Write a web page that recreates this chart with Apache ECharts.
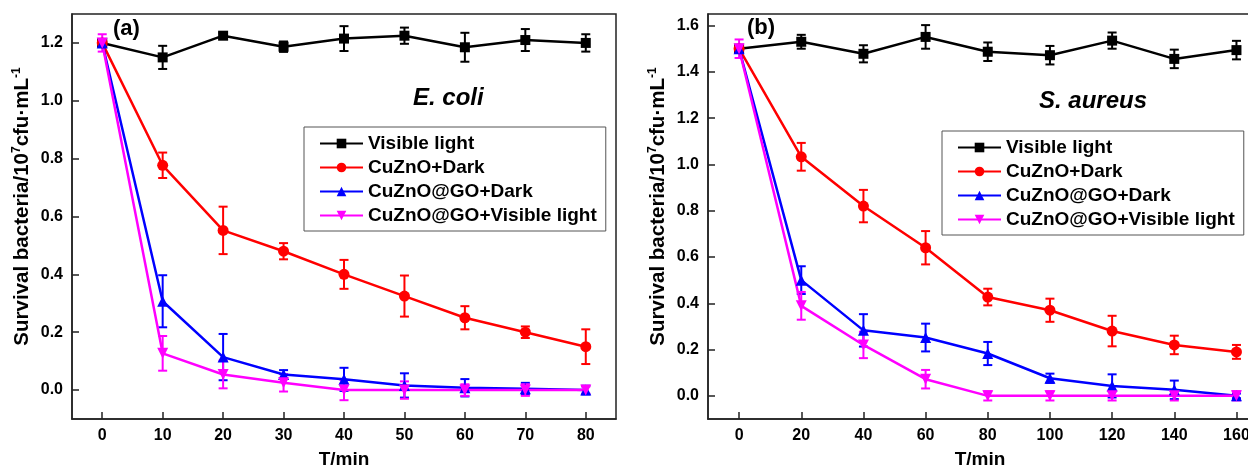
<!DOCTYPE html>
<html lang="en">
<head>
    <meta charset="UTF-8">
    <title>Survival bacteria</title>
    <script src="https://cdn.jsdelivr.net/npm/echarts@6/dist/echarts.min.js"></script>
    <style>
        html, body { margin: 0; padding: 0; background: #fff; }
        #main { width: 1248px; height: 471px; }
    </style>
</head>
<body>
    <div id="main"></div>
    <script>
    // ---- data ----
    var names = ['Visible light', 'CuZnO+Dark', 'CuZnO@GO+Dark', 'CuZnO@GO+Visible light'];

    // (a) E. coli
    var timeA = [0, 10, 20, 30, 40, 50, 60, 70, 80];
    var visA = [1.20, 1.15, 1.225, 1.187, 1.215, 1.225, 1.185, 1.21, 1.20];
    var visErrA = [0.01, 0.04, 0.01, 0.018, 0.043, 0.028, 0.05, 0.038, 0.03];
    var darkA = [1.20, 0.777, 0.552, 0.48, 0.40, 0.325, 0.25, 0.20, 0.15];
    var darkErrA = [0.01, 0.044, 0.082, 0.028, 0.05, 0.071, 0.04, 0.02, 0.06];
    var goDarkA = [1.20, 0.307, 0.114, 0.054, 0.037, 0.016, 0.008, 0.005, 0.0];
    var goDarkErrA = [0.01, 0.09, 0.08, 0.015, 0.04, 0.042, 0.03, 0.02, 0.015];
    var goVisA = [1.20, 0.127, 0.054, 0.025, 0.0, 0.0, 0.0, 0.0, 0.0];
    var goVisErrA = [0.03, 0.06, 0.048, 0.03, 0.035, 0.03, 0.02, 0.02, 0.012];

    // (b) S. aureus
    var timeB = [0, 20, 40, 60, 80, 100, 120, 140, 160];
    var visB = [1.50, 1.53, 1.478, 1.551, 1.487, 1.472, 1.535, 1.456, 1.494];
    var visErrB = [0.01, 0.03, 0.037, 0.051, 0.04, 0.04, 0.035, 0.04, 0.04];
    var darkB = [1.50, 1.033, 0.82, 0.64, 0.427, 0.37, 0.28, 0.22, 0.19];
    var darkErrB = [0.01, 0.06, 0.07, 0.072, 0.036, 0.05, 0.066, 0.04, 0.03];
    var goDarkB = [1.50, 0.50, 0.283, 0.252, 0.183, 0.076, 0.043, 0.026, 0.0];
    var goDarkErrB = [0.01, 0.06, 0.07, 0.06, 0.05, 0.02, 0.05, 0.04, 0.01];
    var goVisB = [1.50, 0.389, 0.22, 0.072, 0.0, 0.0, 0.0, 0.0, 0.0];
    var goVisErrB = [0.04, 0.06, 0.057, 0.04, 0.02, 0.02, 0.02, 0.02, 0.02];

    // tick labels
    var xTicksA = [0, 10, 20, 30, 40, 50, 60, 70, 80];
    var yTicksA = [0, 0.2, 0.4, 0.6, 0.8, 1.0, 1.2];
    var xTicksB = [0, 20, 40, 60, 80, 100, 120, 140, 160];
    var yTicksB = [0, 0.2, 0.4, 0.6, 0.8, 1.0, 1.2, 1.4, 1.6];

    var colors = ['#000000', '#ff0000', '#0000ff', '#ff00ff'];
    var symbols = ['rect', 'circle', 'triangle', 'path://M0,0 L10,0 L5,9 Z'];
    var symbolSizes = [10, 11, 11, 11];
    var font = 'Liberation Sans, Arial, sans-serif';

    function pairs(xs, ys) {
        return xs.map(function (x, i) { return [x, ys[i]]; });
    }
    function triples(xs, ys, es) {
        return xs.map(function (x, i) { return [x, ys[i], es[i]]; });
    }

    function errorBars(idx, xs, ys, es, color) {
        return {
            type: 'custom',
            name: 'err' + idx,
            xAxisIndex: idx,
            yAxisIndex: idx,
            data: triples(xs, ys, es),
            z: 3,
            renderItem: function (params, api) {
                var x = api.value(0), y = api.value(1), e = api.value(2);
                var hi = api.coord([x, y + e]);
                var lo = api.coord([x, y - e]);
                var w = 4.5;
                var st = { stroke: color, lineWidth: 2 };
                return {
                    type: 'group',
                    children: [
                        { type: 'line', shape: { x1: hi[0], y1: hi[1], x2: lo[0], y2: lo[1] }, style: st },
                        { type: 'line', shape: { x1: hi[0] - w, y1: hi[1], x2: hi[0] + w, y2: hi[1] }, style: st },
                        { type: 'line', shape: { x1: lo[0] - w, y1: lo[1], x2: lo[0] + w, y2: lo[1] }, style: st }
                    ]
                };
            }
        };
    }

    function lineSeries(idx, k, xs, ys) {
        return {
            type: 'line',
            name: names[k],
            xAxisIndex: idx,
            yAxisIndex: idx,
            data: pairs(xs, ys),
            symbol: symbols[k],
            symbolSize: symbolSizes[k],
            showAllSymbol: true,
            lineStyle: { color: colors[k], width: 2.5 },
            itemStyle: { color: colors[k] },
            z: 4,
            animation: false
        };
    }

    function xAxis(idx, min, max, ticks) {
        return {
            type: 'value', gridIndex: idx, min: min, max: max,
            name: 'T/min', nameLocation: 'middle', nameGap: 31,
            nameTextStyle: { fontSize: 19, fontWeight: 'bold', fontFamily: font, color: '#000' },
            axisLine: { show: true, onZero: false, lineStyle: { color: '#222', width: 1.5 } },
            axisTick: { show: true, inside: true, length: 7, customValues: ticks, lineStyle: { color: '#222', width: 1.5 } },
            axisLabel: { customValues: ticks, fontSize: 16, fontWeight: 'bold', fontFamily: font, color: '#000', margin: 9 },
            splitLine: { show: false }
        };
    }

    function yAxis(idx, min, max, ticks) {
        return {
            type: 'value', gridIndex: idx, min: min, max: max,
            name: '{a|Survival bacteria/10}{s|7}{a|cfu·mL}{s|-1}',
            nameLocation: 'middle', nameGap: 38,
            nameTextStyle: {
                padding: [0, 0, 0, 20],
                rich: {
                    a: { fontSize: 20.5, fontWeight: 'bold', fontFamily: font, color: '#000', lineHeight: 23 },
                    s: { fontSize: 12, fontWeight: 'bold', fontFamily: font, color: '#000', verticalAlign: 'top', lineHeight: 23 }
                }
            },
            axisLine: { show: true, onZero: false, lineStyle: { color: '#222', width: 1.5 } },
            axisTick: { show: true, inside: true, length: 7, customValues: ticks, lineStyle: { color: '#222', width: 1.5 } },
            axisLabel: {
                customValues: ticks, fontSize: 16, fontWeight: 'bold', fontFamily: font, color: '#000', margin: 9,
                formatter: function (v) { return v.toFixed(1); }
            },
            splitLine: { show: false }
        };
    }

    function legend(left, top) {
        return {
            data: names,
            orient: 'vertical',
            left: left, top: top,
            itemWidth: 43, itemHeight: 12, itemGap: 5,
            padding: [7, 9, 6, 15],
            borderColor: '#555', borderWidth: 1,
            selectedMode: false,
            textStyle: { fontSize: 19, fontWeight: 'bold', fontFamily: font, color: '#000' }
        };
    }

    var series = [
        lineSeries(0, 0, timeA, visA), errorBars(0, timeA, visA, visErrA, colors[0]),
        lineSeries(0, 1, timeA, darkA), errorBars(0, timeA, darkA, darkErrA, colors[1]),
        lineSeries(0, 2, timeA, goDarkA), errorBars(0, timeA, goDarkA, goDarkErrA, colors[2]),
        lineSeries(0, 3, timeA, goVisA), errorBars(0, timeA, goVisA, goVisErrA, colors[3]),
        lineSeries(1, 0, timeB, visB), errorBars(1, timeB, visB, visErrB, colors[0]),
        lineSeries(1, 1, timeB, darkB), errorBars(1, timeB, darkB, darkErrB, colors[1]),
        lineSeries(1, 2, timeB, goDarkB), errorBars(1, timeB, goDarkB, goDarkErrB, colors[2]),
        lineSeries(1, 3, timeB, goVisB), errorBars(1, timeB, goVisB, goVisErrB, colors[3])
    ];

    var myChart = echarts.init(document.getElementById('main'));
    var option = {
        backgroundColor: '#fff',
        animation: false,
        grid: [
            { left: 72, top: 14, width: 544, height: 405, outerBoundsMode: 'none', show: true, borderColor: '#222', borderWidth: 1.5, backgroundColor: 'transparent' },
            { left: 708, top: 14, width: 544, height: 405, outerBoundsMode: 'none', show: true, borderColor: '#222', borderWidth: 1.5, backgroundColor: 'transparent' }
        ],
        xAxis: [xAxis(0, -5, 85, xTicksA), xAxis(1, -10, 165, xTicksB)],
        yAxis: [yAxis(0, -0.1, 1.3, yTicksA), yAxis(1, -0.1, 1.65, yTicksB)],
        legend: [legend(304, 127), legend(942, 131)],
        graphic: [
            { type: 'text', left: 113, top: 18, style: { text: '(a)', fontSize: 22, fontWeight: 'bold', fontFamily: font, fill: '#000' } },
            { type: 'text', left: 747, top: 17, style: { text: '(b)', fontSize: 22, fontWeight: 'bold', fontFamily: font, fill: '#000' } },
            { type: 'text', left: 413, top: 86, style: { text: 'E. coli', fontSize: 24, fontWeight: 'bold', fontStyle: 'italic', fontFamily: font, fill: '#000' } },
            { type: 'text', left: 1039, top: 89, style: { text: 'S. aureus', fontSize: 24, fontWeight: 'bold', fontStyle: 'italic', fontFamily: font, fill: '#000' } }
        ],
        series: series
    };
    myChart.setOption(option);
    </script>
</body>
</html>
